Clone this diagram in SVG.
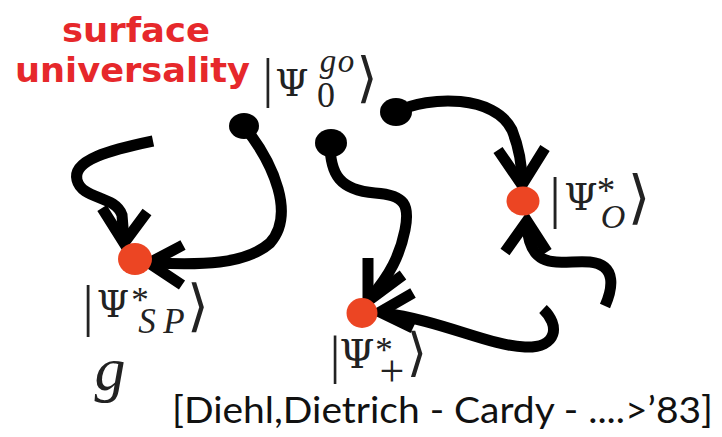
<svg xmlns="http://www.w3.org/2000/svg" width="722" height="437" viewBox="0 0 722 437">
<style>
.title{font-family:"DejaVu Sans",sans-serif;font-weight:bold;font-size:33px;fill:#e6282b}
.m{font-family:"Liberation Serif","DejaVu Serif",serif;fill:#222;text-anchor:middle}
.i{font-style:italic}
.psi{font-family:"DejaVu Serif",serif}
.br{font-family:"DejaVu Sans",sans-serif}
.cite{font-family:Lato,"Liberation Sans",sans-serif;font-size:36px;fill:#111}
.c{fill:none;stroke:#000;stroke-width:11}
.ah{fill:none;stroke:#000;stroke-width:11;stroke-linejoin:miter}
.src{fill:#000}
.fp{fill:#ec4523}
</style>
<g id="title">
<text class="title" x="62" y="42" textLength="148" lengthAdjust="spacingAndGlyphs">surface</text>
<text class="title" x="15" y="82" textLength="235" lengthAdjust="spacingAndGlyphs">universality</text>
</g>
<g id="connectors">
<path class="c" d="M153,141 C110,150 72,160 77,180 C82,200 115,195 122,215 L124,240"/>
<polyline class="ah" points="102,208 124,243 147,212"/>
<path class="c" d="M244,126 C275,165 295,215 270,243 C245,265 200,265 153,263"/>
<polyline class="ah" points="183,245 149,263 182,285"/>
<path class="c" d="M330,143 C330,175 340,190 375,193 C405,195 410,205 405,230 C400,255 390,275 370,298"/>
<polyline class="ah" points="368,258 368,301 403,275"/>
<path class="c" d="M543,309 C560,325 558,348 525,347 C490,346 440,320 383,313"/>
<polyline class="ah" points="413,293 380,312 413,328"/>
<path class="c" d="M396,112 C430,95 495,95 512,130 C520,150 522,165 522,182"/>
<polyline class="ah" points="498,150 522,185 545,148"/>
<path class="c" d="M605,306 C612,290 618,265 590,262 C565,259 530,275 527,226"/>
<polyline class="ah" points="505,252 527,221 547,252"/>
</g>
<g id="psi0">
<ellipse class="src" cx="244" cy="126" rx="15" ry="13"/>
<ellipse class="src" cx="331" cy="143" rx="16" ry="14"/>
<ellipse class="src" cx="396" cy="112" rx="16" ry="14"/>
<text class="m"><tspan x="268" y="96" font-size="54">|</tspan><tspan class="psi" x="292" y="96" font-size="38">Ψ</tspan><tspan class="i" x="328 346" y="72" font-size="33">go</tspan><tspan x="326" y="107" font-size="36">0</tspan><tspan class="br" x="367" y="96" font-size="54">⟩</tspan></text>
</g>
<g id="psiSP">
<ellipse class="fp" cx="135" cy="259" rx="17" ry="16"/>
<text class="m"><tspan x="88" y="325" font-size="56">|</tspan><tspan class="psi" x="113" y="317" font-size="37">Ψ</tspan><tspan x="140" y="312" font-size="35">*</tspan><tspan class="i" x="147 174" y="333" font-size="35">SP</tspan><tspan class="br" x="198" y="325" font-size="56">⟩</tspan></text>
</g>
<g id="psiO">
<ellipse class="fp" cx="523" cy="201" rx="16.5" ry="14.5"/>
<text class="m"><tspan x="555" y="217" font-size="58">|</tspan><tspan class="psi" x="581" y="210" font-size="38">Ψ</tspan><tspan x="606" y="203" font-size="37">*</tspan><tspan class="i" x="613" y="228" font-size="34">O</tspan><tspan class="br" x="639" y="217" font-size="58">⟩</tspan></text>
</g>
<g id="psiPlus">
<ellipse class="fp" cx="362" cy="313" rx="15.5" ry="15"/>
<text class="m"><tspan x="335" y="373" font-size="53">|</tspan><tspan class="psi" x="357" y="368" font-size="40">Ψ</tspan><tspan x="384" y="362" font-size="35">*</tspan><tspan x="392" y="386" font-size="44">+</tspan><tspan class="br" x="417" y="370" font-size="52">⟩</tspan></text>
</g>
<g id="g-label">
<text class="m i" x="110" y="390" font-size="62">g</text>
</g>
<g id="citation">
<text class="cite" x="172" y="423" textLength="541" lengthAdjust="spacingAndGlyphs">[Diehl,Dietrich - Cardy - ....&gt;’83]</text>
</g>
</svg>
